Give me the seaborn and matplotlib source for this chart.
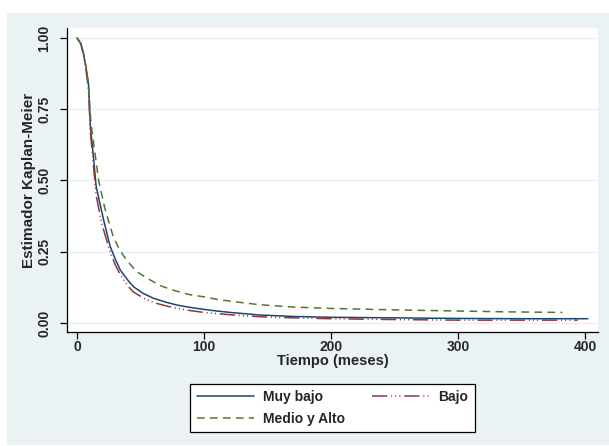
import numpy as np
import pandas as pd
import matplotlib
matplotlib.use("Agg")
import matplotlib.pyplot as plt
from matplotlib.patches import Rectangle
import seaborn as sns

# valores (curvas Kaplan-Meier aproximadas)
t_muy_bajo = [0, 3, 5, 7, 9, 10.5, 13, 15, 18, 21, 26, 30, 34, 40, 44.5, 52, 60, 70, 78.5, 90, 99.5, 110, 123, 144, 170, 200, 250, 300, 350, 402]
s_muy_bajo = [1.0, 0.98, 0.946, 0.90, 0.84, 0.69, 0.58, 0.48, 0.42, 0.36, 0.27, 0.225, 0.186, 0.15, 0.127, 0.104, 0.087, 0.073, 0.063, 0.054, 0.048, 0.042, 0.036, 0.028, 0.023, 0.02, 0.018, 0.016, 0.015, 0.015]

t_bajo = [0, 3, 5, 7, 9, 10.5, 13, 15, 18, 20, 26, 30, 34, 40, 44, 52, 60, 70, 80, 90, 100, 110, 123, 144, 170, 200, 250, 300, 350, 394]
s_bajo = [1.0, 0.98, 0.94, 0.89, 0.82, 0.67, 0.55, 0.45, 0.38, 0.34, 0.25, 0.205, 0.17, 0.13, 0.11, 0.088, 0.072, 0.06, 0.05, 0.043, 0.037, 0.033, 0.028, 0.022, 0.018, 0.015, 0.012, 0.01, 0.01, 0.01]

t_medio = [0, 3, 5, 7, 9, 11, 14, 17, 22, 28, 32, 36, 39, 47, 56, 66, 78, 88, 99.5, 110, 123, 144, 170, 200, 250, 300, 340, 382]
s_medio = [1.0, 0.98, 0.95, 0.90, 0.83, 0.70, 0.60, 0.50, 0.40, 0.31, 0.27, 0.24, 0.22, 0.18, 0.155, 0.13, 0.112, 0.1, 0.092, 0.083, 0.075, 0.064, 0.056, 0.051, 0.046, 0.042, 0.039, 0.037]

grupos = ["Muy bajo", "Bajo", "Medio y Alto"]
colores = {"Muy bajo": "#1a476f", "Bajo": "#90353b", "Medio y Alto": "#55752f"}
estilos = {"Muy bajo": "", "Bajo": (10, 2.5, 0.7, 2, 0.7, 2, 0.7, 2.5), "Medio y Alto": (5, 3.5)}

df = pd.concat([
    pd.DataFrame({"t": t_muy_bajo, "s": s_muy_bajo, "grupo": "Muy bajo"}),
    pd.DataFrame({"t": t_bajo, "s": s_bajo, "grupo": "Bajo"}),
    pd.DataFrame({"t": t_medio, "s": s_medio, "grupo": "Medio y Alto"}),
])

sns.set_style("white")
plt.rcParams['font.family'] = ['Liberation Sans', 'DejaVu Sans']

fig = plt.figure(figsize=(6.09, 4.46), dpi=100)
fig.patch.set_facecolor("white")
fondo = Rectangle((7 / 609, 1 / 446), 1 - 7 / 609, 432 / 446,
                  transform=fig.transFigure, facecolor="#eaf2f3",
                  edgecolor="none", zorder=-10)
fig.add_artist(fondo)

ax = fig.add_axes([67 / 609, 114 / 446, 531 / 609, 304 / 446])
ax.set_facecolor("white")
ax.set_zorder(1)

sns.lineplot(data=df, x="t", y="s", hue="grupo", style="grupo", hue_order=grupos,
             style_order=grupos, palette=colores, dashes=estilos, estimator=None,
             linewidth=1.1, ax=ax)

ax.set_xlim(-7.9, 410)
ax.set_ylim(-0.0316, 1.035)
ax.set_xticks([0, 100, 200, 300, 400])
ax.set_yticks([0, 0.25, 0.5, 0.75, 1.0])
ax.set_yticklabels(["0.00", "0.25", "0.50", "0.75", "1.00"], rotation=90, va="center")
ax.yaxis.grid(True, color="#eaf2f3", linewidth=1)
ax.xaxis.grid(False)
ax.set_axisbelow(True)

for lado in ["top", "right"]:
    ax.spines[lado].set_visible(False)
for lado in ["left", "bottom"]:
    ax.spines[lado].set_color("black")
    ax.spines[lado].set_linewidth(0.9)

ax.tick_params(axis="both", direction="out", length=5, width=0.9, color="black",
               labelsize=10, left=True, bottom=True)
ax.tick_params(axis="x", pad=1)
ax.tick_params(axis="y", pad=6.5)
for lab in ax.get_xticklabels() + ax.get_yticklabels():
    lab.set_fontweight("bold")

ax.set_xlabel("Tiempo (meses)", fontsize=10.5, fontweight="bold", labelpad=0)
ax.set_ylabel("Estimador Kaplan-Meier", fontsize=11, fontweight="bold", labelpad=1)

handles, labels = ax.get_legend_handles_labels()
h = dict(zip(labels, handles))
orden = ["Muy bajo", "Medio y Alto", "Bajo"]
leg = ax.legend([h[k] for k in orden], orden, ncol=2, loc="center",
                bbox_to_anchor=(332.5 / 609, 38 / 446), bbox_transform=fig.transFigure,
                frameon=True, fancybox=False, framealpha=1, edgecolor="black",
                handlelength=4.1, columnspacing=1.9, handletextpad=0.7,
                borderpad=0.45, labelspacing=0.6,
                prop={"size": 10, "weight": "bold"})
leg.get_frame().set_linewidth(0.9)

fig.savefig("out.png", dpi=100)
